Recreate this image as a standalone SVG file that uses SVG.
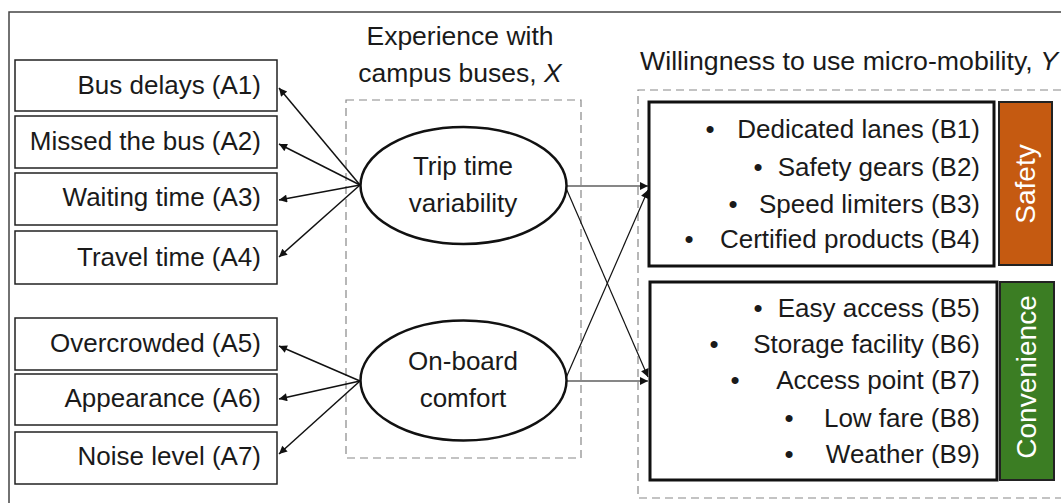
<svg xmlns="http://www.w3.org/2000/svg" width="1061" height="503" viewBox="0 0 1061 503">
<defs>
<style>
text{font-family:"Liberation Sans",Arial,sans-serif;font-size:26px;fill:#1a1a1a}
.lbl{text-anchor:end}
.mid{text-anchor:middle}
.ttl{font-size:26.5px}
.box{fill:#fff;stroke:#222;stroke-width:1.5}
.ell{fill:#fff;stroke:#111;stroke-width:2.5}
.grp{fill:#fff;stroke:#111;stroke-width:3}
.dash{fill:none;stroke:#888;stroke-width:1.2;stroke-dasharray:8 5}
.conn line{stroke:#111;stroke-width:1.5;marker-end:url(#ah)}
.thin line{stroke-width:1.2}
.vt{fill:#fff;font-size:28px;text-anchor:middle}
</style>
<marker id="ah" viewBox="0 0 10 10" refX="10" refY="5" markerWidth="10" markerHeight="8" markerUnits="userSpaceOnUse" orient="auto">
<path d="M0,0 L10,5 L0,10 z" fill="#111"/>
</marker>
</defs>
<rect width="1061" height="503" fill="#fff"/>
<path d="M9,503 L9,12 L1061,12" fill="none" stroke="#444" stroke-width="1.5"/>

<g id="groupX">
<rect class="dash" x="346" y="100" width="235" height="358"/>
<text class="mid ttl" x="460" y="45">Experience with</text>
<text class="mid ttl" x="460" y="82">campus buses, <tspan font-style="italic">X</tspan></text>
</g>
<g id="groupY">
<path class="dash" d="M1061,90 L638,90 L638,498 L1061,498"/>
<text class="ttl" x="640" y="70" textLength="418" lengthAdjust="spacingAndGlyphs">Willingness to use micro-mobility, <tspan font-style="italic">Y</tspan></text>
</g>

<g id="A1"><rect class="box" x="15" y="60" width="262" height="51"/><text class="lbl" x="261" y="94">Bus delays (A1)</text></g>
<g id="A2"><rect class="box" x="15" y="116" width="262" height="52"/><text class="lbl" x="261" y="150">Missed the bus (A2)</text></g>
<g id="A3"><rect class="box" x="15" y="173" width="262" height="52"/><text class="lbl" x="261" y="206">Waiting time (A3)</text></g>
<g id="A4"><rect class="box" x="15" y="231" width="262" height="53"/><text class="lbl" x="261" y="266">Travel time (A4)</text></g>
<g id="A5"><rect class="box" x="15" y="318" width="262" height="52"/><text class="lbl" x="261" y="352">Overcrowded (A5)</text></g>
<g id="A6"><rect class="box" x="15" y="374" width="262" height="51"/><text class="lbl" x="261" y="407">Appearance (A6)</text></g>
<g id="A7"><rect class="box" x="15" y="432" width="262" height="52"/><text class="lbl" x="261" y="465">Noise level (A7)</text></g>

<g id="trip">
<ellipse class="ell" cx="463.5" cy="185.5" rx="103" ry="58.5"/>
<text class="mid" x="463" y="175">Trip time</text>
<text class="mid" x="463" y="212">variability</text>
</g>
<g id="comfort">
<ellipse class="ell" cx="463.5" cy="380.5" rx="103" ry="60"/>
<text class="mid" x="463" y="370">On-board</text>
<text class="mid" x="463" y="407">comfort</text>
</g>

<g id="safety">
<rect class="grp" x="649" y="102" width="345" height="164"/>
<rect x="999" y="102" width="53" height="163" fill="#C55A11" stroke="#222" stroke-width="2"/>
<text class="vt" transform="translate(1035,184) rotate(-90)">Safety</text>
<text class="mid" x="710" y="138">•</text><text class="lbl" x="980" y="138">Dedicated lanes (B1)</text>
<text class="mid" x="758" y="176">•</text><text class="lbl" x="980" y="176">Safety gears (B2)</text>
<text class="mid" x="733" y="213">•</text><text class="lbl" x="980" y="213">Speed limiters (B3)</text>
<text class="mid" x="689" y="248">•</text><text class="lbl" x="980" y="248">Certified products (B4)</text>
</g>
<g id="convenience">
<rect class="grp" x="650" y="282" width="347" height="198"/>
<rect x="1000" y="282" width="54" height="198" fill="#3B7D23" stroke="#222" stroke-width="2"/>
<text class="vt" transform="translate(1036,377) rotate(-90)">Convenience</text>
<text class="mid" x="758" y="317">•</text><text class="lbl" x="980" y="317">Easy access (B5)</text>
<text class="mid" x="714" y="353">•</text><text class="lbl" x="980" y="353">Storage facility (B6)</text>
<text class="mid" x="735" y="389">•</text><text class="lbl" x="980" y="389">Access point (B7)</text>
<text class="mid" x="789" y="427">•</text><text class="lbl" x="980" y="427">Low fare (B8)</text>
<text class="mid" x="789" y="463">•</text><text class="lbl" x="980" y="463">Weather (B9)</text>
</g>

<g id="connectors" class="conn">
<line x1="360" y1="185" x2="279" y2="88"/>
<line x1="360" y1="185" x2="279" y2="144"/>
<line x1="360" y1="185" x2="279" y2="200"/>
<line x1="360" y1="185" x2="279" y2="257"/>
<line x1="360" y1="381" x2="279" y2="346"/>
<line x1="360" y1="381" x2="279" y2="399"/>
<line x1="360" y1="381" x2="279" y2="454"/>
<g class="thin">
<line x1="566" y1="186" x2="648" y2="186"/>
<line x1="566" y1="188" x2="648" y2="377"/>
<line x1="566" y1="381" x2="648" y2="381"/>
<line x1="566" y1="378" x2="648" y2="190"/>
</g>
</g>
</svg>
